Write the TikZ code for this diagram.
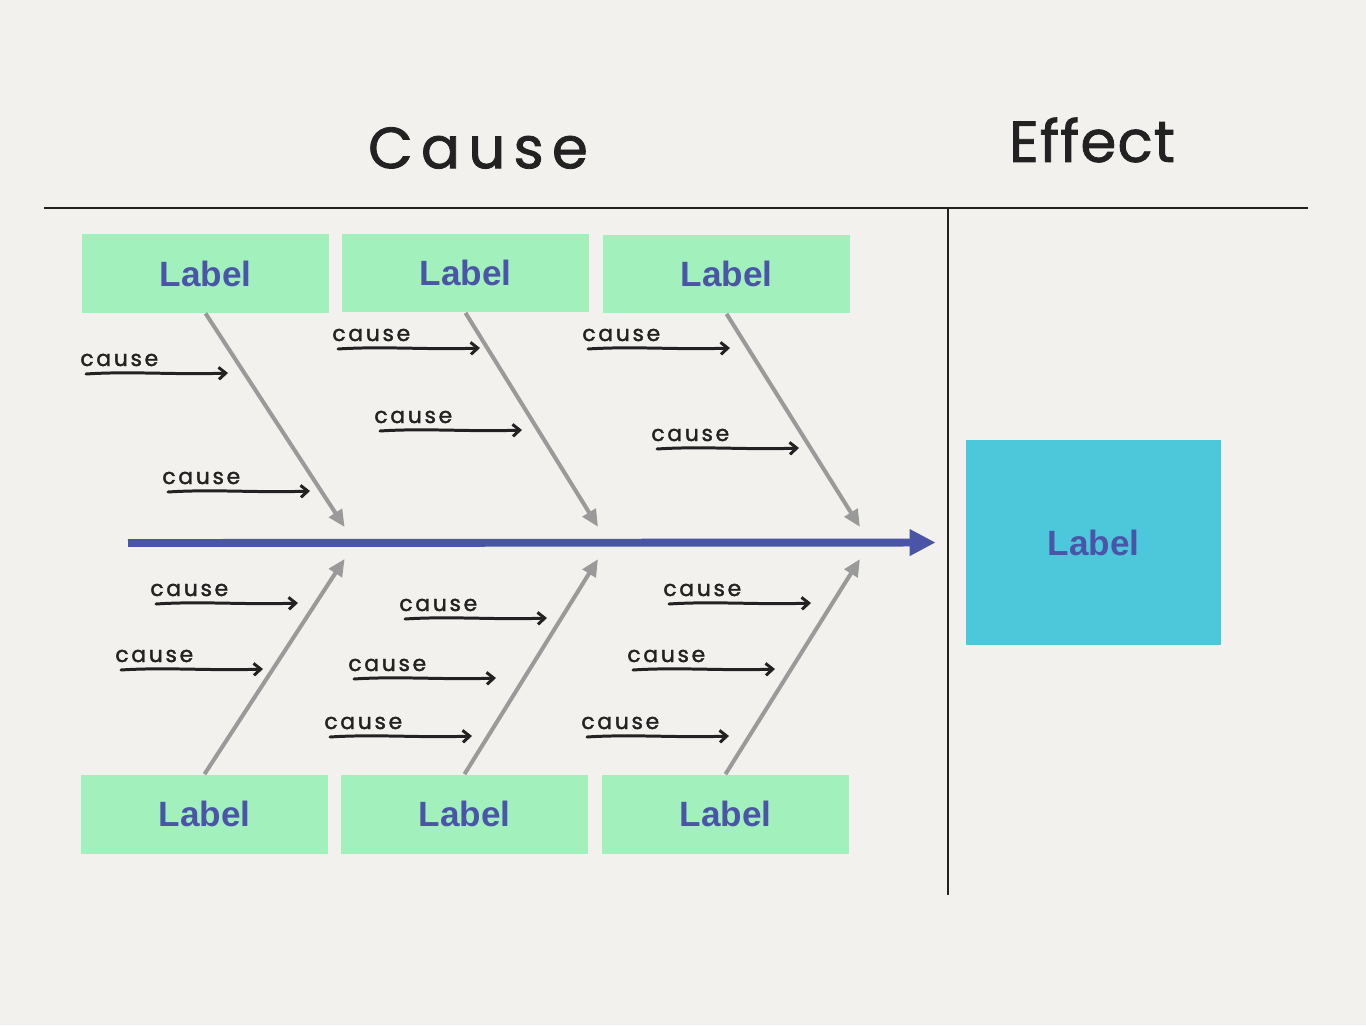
\documentclass[tikz,border=0pt]{standalone}
\usepackage{fontspec}
\usetikzlibrary{arrows.meta,calc,positioning}
\newfontfamily\labelfont{Liberation Sans}
\newfontfamily\handfont{Poppins}[LetterSpace=12,FakeBold=1.6]
\newfontfamily\titlefont{Poppins}[LetterSpace=14,FakeBold=1.4]
\newfontfamily\effectfont{Poppins}[LetterSpace=2,FakeBold=1.4]
\definecolor{paper}{HTML}{F3F1ED}
\definecolor{ink}{HTML}{222222}
\definecolor{mint}{HTML}{A2F0BC}
\definecolor{cyanbox}{HTML}{4DC7DA}
\definecolor{indigo}{HTML}{4B55A8}
\definecolor{bonec}{HTML}{9A9A9A}
\tikzset{
  catbox/.style={fill=mint,inner sep=0pt,minimum width=4.94cm,minimum height=1.58cm,
    text=indigo,font=\labelfont\bfseries\fontsize{20}{24}\selectfont},
  effbox/.style={fill=cyanbox,inner sep=0pt,minimum width=5.1cm,minimum height=4.1cm,
    text=indigo,font=\labelfont\bfseries\fontsize{20}{24}\selectfont},
  rule/.style={ink,line width=1.3pt},
  spine/.style={indigo,line width=4.5pt,shorten >=0.6cm,-{Triangle[length=0.52cm,width=0.5cm]}},
  bone/.style={bonec,line width=2.3pt,shorten >=0.38cm,-{Triangle[length=0.34cm,width=0.3cm]}},
  causetxt/.style={ink,inner sep=0pt,anchor=base west,font=\handfont\fontsize{12.5}{14}\selectfont},
  causeln/.style={ink,line width=1.7pt,line cap=round,-{Straight Barb[length=0.14cm,width=0.24cm]}},
  title/.style={ink,inner sep=0pt},
}
\begin{document}
\begin{tikzpicture}[x=0.02cm,y=-0.02cm]
  \fill[paper] (0,0) rectangle (1366,1025);
  \newcommand{\smallcause}[3]{%
    \node[causetxt] (#3) at (#1,#2+6) {cause};
    \draw[causeln] ($(#3.base west)+(6,8)$)
      .. controls +(45,-3) and +(-50,2) .. ($(#3.base west)+(148,7)$);}
  % headings and frame
  \node[title,font=\titlefont\fontsize{33}{36}\selectfont] (causehd) at (478,148) {Cause};
  \node[title,font=\effectfont\fontsize{33}{36}\selectfont] (effhd) at (1092,140) {Effect};
  \coordinate (ruleL) at (44,208);
  \coordinate (ruleR) at (1308,208);
  \coordinate (ruleT) at (948,208);
  \coordinate (ruleB) at (948,895);
  \draw[rule] (ruleL) -- (ruleR);
  \draw[rule] (ruleT) -- (ruleB);
  % category boxes
  \node[catbox] (t1) at (205.5,273.5) {Label};
  \node[catbox] (t2) at (465.5,273) {Label};
  \node[catbox] (t3) at (726.5,274) {Label};
  \node[catbox] (b1) at (204.5,814) {Label};
  \node[catbox] (b2) at (464.5,814) {Label};
  \node[catbox] (b3) at (725.5,814) {Label};
  \node[effbox] (eff) at (1093.5,542.5) {Label};
  % spine and bones
  \coordinate (tail) at (128,543);
  \coordinate (k1) at (355,543);
  \coordinate (k2) at (608,543);
  \coordinate (k3) at (870,543);
  \draw[spine] (tail) -- (eff.west);
  \foreach \i in {1,2,3}{
    \draw[bone] (t\i.south) -- (k\i);
    \draw[bone] (b\i.north) -- (k\i);
  }
  % causes
  \smallcause{80}{360}{c1}
  \smallcause{162}{478}{c2}
  \smallcause{332}{335}{c3}
  \smallcause{374}{417}{c4}
  \smallcause{582}{335}{c5}
  \smallcause{651}{435}{c6}
  \smallcause{150}{590}{c7}
  \smallcause{115}{656}{c8}
  \smallcause{399}{605}{c9}
  \smallcause{348}{665}{c10}
  \smallcause{324}{723}{c11}
  \smallcause{663}{590}{c12}
  \smallcause{627}{656}{c13}
  \smallcause{581}{723}{c14}
\end{tikzpicture}
\end{document}
